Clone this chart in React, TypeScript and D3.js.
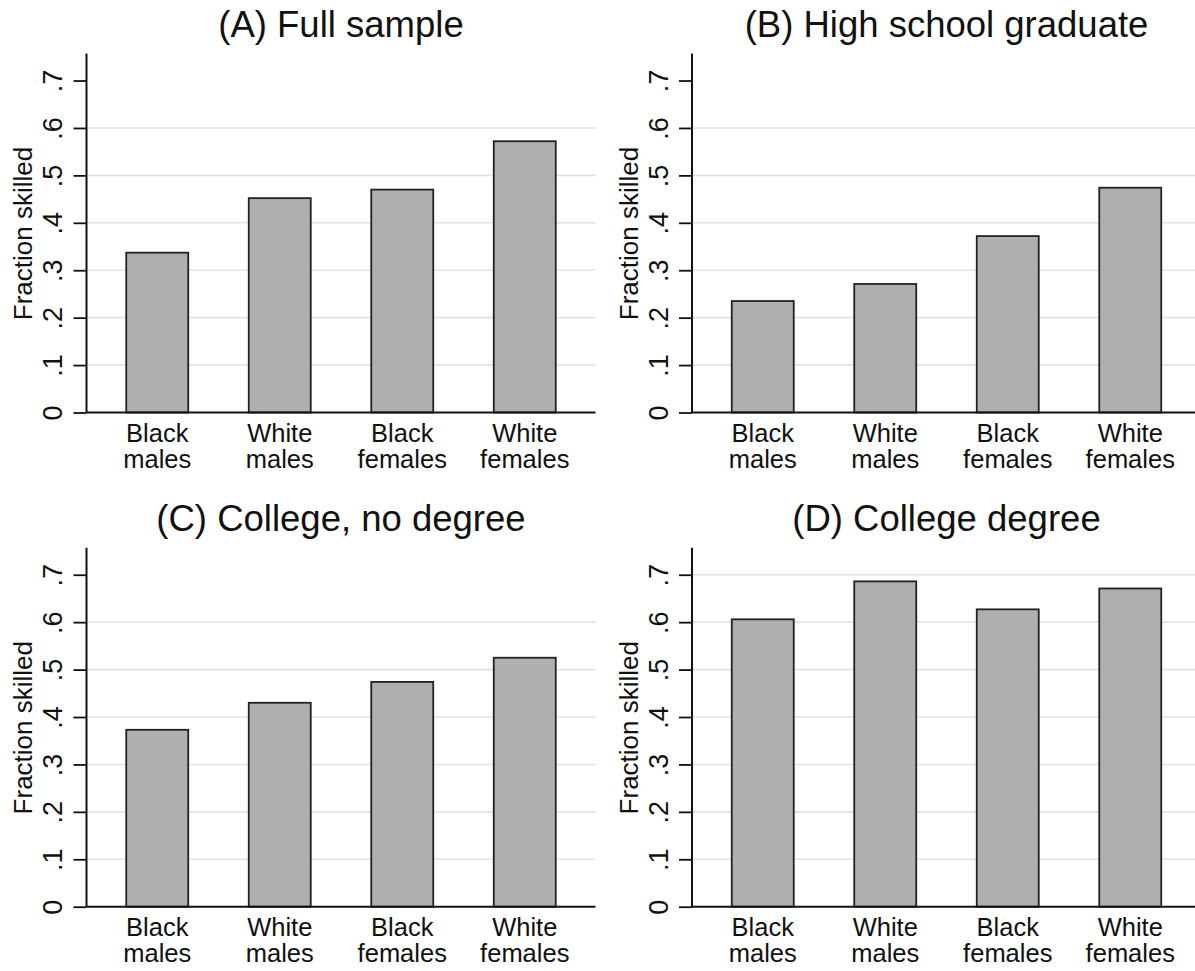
import React, { useEffect, useRef } from 'react';
import * as d3 from 'd3';

// group labels, two lines each
const categories = ['Black males', 'White males', 'Black females', 'White females'];
const categoryLines = [
  ['Black', 'males'],
  ['White', 'males'],
  ['Black', 'females'],
  ['White', 'females'],
];

const titles = [
  '(A) Full sample',
  '(B) High school graduate',
  '(C) College, no degree',
  '(D) College degree',
];

const fullSample = [0.337, 0.452, 0.47, 0.572];
const highSchool = [0.235, 0.271, 0.372, 0.474];
const someCollege = [0.373, 0.43, 0.474, 0.525];
const collegeDegree = [0.606, 0.686, 0.627, 0.671];

const yTicks = [0, 0.1, 0.2, 0.3, 0.4, 0.5, 0.6, 0.7];
const yTickLabels = ['0', '.1', '.2', '.3', '.4', '.5', '.6', '.7'];
// top gridline drawn in each panel
const gridTop = [0.6, 0.6, 0.6, 0.7];

const App = () => {
  const svgRef = useRef(null);

  useEffect(() => {
    document.body.style.margin = '0';
    if (!svgRef.current) return;

    const W = 1195;
    const H = 971;
    const font = '"Liberation Sans", Arial, Helvetica, sans-serif';

    const svg = d3
      .select(svgRef.current)
      .attr('width', W)
      .attr('height', H)
      .style('font-family', font);

    svg.selectAll('*').remove();

    const panels = [fullSample, highSchool, someCollege, collegeDegree];
    const origins = [
      { x: 86.5, y: 412.5 },
      { x: 692, y: 412.5 },
      { x: 86.5, y: 906.7 },
      { x: 692, y: 906.7 },
    ];
    const plotW = 509;
    const plotH = 359;

    panels.forEach((values, i) => {
      const o = origins[i];
      const g = svg.append('g').attr('transform', `translate(${o.x},${o.y - plotH})`);

      const y = d3.scaleLinear().domain([0, 0.757]).range([plotH, 0]);
      const x = d3
        .scaleBand()
        .domain(categories)
        .range([0, plotW])
        .paddingInner(0.494)
        .paddingOuter(0.3245);

      // gridlines
      g.append('g')
        .selectAll('line')
        .data(yTicks.filter((t) => t > 0 && t <= gridTop[i] + 1e-9))
        .enter()
        .append('line')
        .attr('x1', 0)
        .attr('x2', plotW)
        .attr('y1', (d) => y(d))
        .attr('y2', (d) => y(d))
        .attr('stroke', '#e3e3e3')
        .attr('stroke-width', 1.6);

      // bars
      g.append('g')
        .selectAll('rect')
        .data(values)
        .enter()
        .append('rect')
        .attr('x', (d, j) => x(categories[j]))
        .attr('y', (d) => y(d))
        .attr('width', x.bandwidth())
        .attr('height', (d) => y(0) - y(d))
        .attr('fill', '#afafaf')
        .attr('stroke', '#222')
        .attr('stroke-width', 1.8);

      // y axis
      const yAxis = g
        .append('g')
        .call(
          d3
            .axisLeft(y)
            .tickValues(yTicks)
            .tickSize(13)
            .tickFormat((d, j) => yTickLabels[j])
        );
      yAxis.select('.domain').attr('stroke', '#111').attr('stroke-width', 2).attr('d', `M0,${plotH}V0`);
      yAxis.selectAll('.tick line').attr('stroke', '#111').attr('stroke-width', 1.8);
      yAxis
        .selectAll('.tick text')
        .attr('x', null)
        .attr('dy', null)
        .attr('text-anchor', 'middle')
        .attr('transform', 'translate(-24.5,0) rotate(-90)')
        .attr('font-size', 27)
        .attr('font-family', font)
        .attr('fill', '#111');

      // x axis baseline
      g.append('line')
        .attr('x1', 0)
        .attr('x2', plotW)
        .attr('y1', y(0))
        .attr('y2', y(0))
        .attr('stroke', '#111')
        .attr('stroke-width', 2);

      // category labels
      const labels = g
        .append('g')
        .selectAll('text')
        .data(categoryLines)
        .enter()
        .append('text')
        .attr('text-anchor', 'middle')
        .attr('font-size', 25.5)
        .attr('fill', '#111')
        .attr('transform', (d, j) => `translate(${x(categories[j]) + x.bandwidth() / 2},${y(0) + 29.5})`);
      labels
        .selectAll('tspan')
        .data((d) => d)
        .enter()
        .append('tspan')
        .attr('x', 0)
        .attr('y', (d, k) => k * 25.5)
        .text((d) => d);

      // y axis title
      g.append('text')
        .attr('transform', `translate(-54.5,${plotH - 179}) rotate(-90)`)
        .attr('text-anchor', 'middle')
        .attr('font-size', 26)
        .attr('fill', '#111')
        .text('Fraction skilled');

      // panel title
      g.append('text')
        .attr('x', plotW / 2)
        .attr('y', 36.7 - (412.5 - plotH))
        .attr('text-anchor', 'middle')
        .attr('font-size', 36.5)
        .attr('fill', '#111')
        .text(titles[i]);
    });

    return () => {
      svg.selectAll('*').remove();
    };
  }, []);

  return (
    <div style={{ background: '#fff' }}>
      <svg ref={svgRef} style={{ display: 'block' }} />
    </div>
  );
};

export default App;
